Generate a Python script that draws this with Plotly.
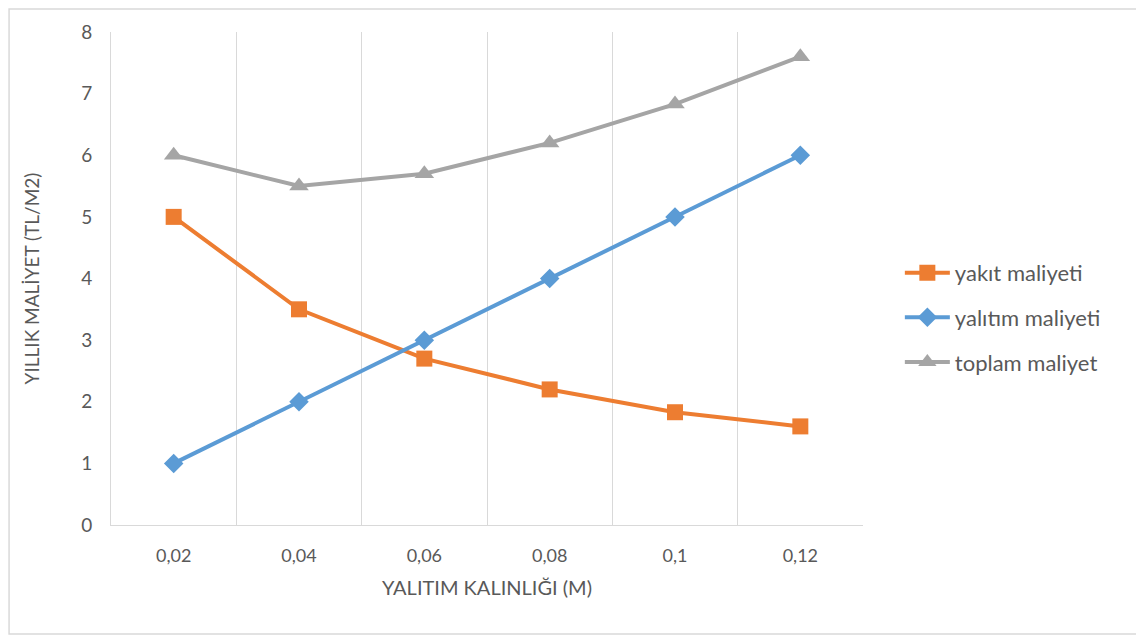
import plotly.graph_objects as go

categories = ["0,02", "0,04", "0,06", "0,08", "0,1", "0,12"]
yakit = [5.0, 3.5, 2.7, 2.2, 1.83, 1.6]
yalitim = [1.0, 2.0, 3.0, 4.0, 5.0, 6.0]
toplam = [6.0, 5.5, 5.7, 6.2, 6.83, 7.6]
y_ticks = [0, 1, 2, 3, 4, 5, 6, 7, 8]

series = [
    ("yakıt maliyeti", yakit, "#ED7D31", "square", 16),
    ("yalıtım maliyeti", yalitim, "#5B9BD5", "diamond", 15),
    ("toplam maliyet", toplam, "#A5A5A5", "triangle-up", 17),
]

xpos = list(range(len(categories)))
fig = go.Figure()
for i, (name, vals, col, sym, sz) in enumerate(series):
    fig.add_trace(go.Scatter(
        x=xpos, y=vals, name=name, mode="lines+markers",
        legendgroup=f"g{i}",
        line=dict(color=col, width=4),
        marker=dict(symbol=sym, size=sz, color=col),
    ))

font_fam = "Lato, Open Sans, sans-serif"
txt = "#595959"
grid = "#d9d9d9"

W, H = 1136, 628
L, T = 103, 24
PW, PH = 752.5, 493

fig.update_layout(
    width=W, height=H,
    margin=dict(l=L, r=W - L - PW, t=T, b=H - T - PH),
    paper_bgcolor="white", plot_bgcolor="white",
    font=dict(family=font_fam, color=txt, size=18),
    showlegend=True,
    legend=dict(
        x=1.049, y=0.421, xanchor="left", yanchor="middle",
        font=dict(size=22, color=txt, family=font_fam),
        tracegroupgap=13, traceorder="grouped", itemwidth=45,
        bgcolor="rgba(0,0,0,0)",
    ),
    xaxis=dict(
        range=[-0.5, len(categories) - 0.5],
        tickmode="array", tickvals=xpos, ticktext=categories,
        showgrid=False, zeroline=False,
        showline=True, linecolor=grid, linewidth=1,
        ticks="", ticklen=0, ticklabelstandoff=14,
        tickfont=dict(size=18, color=txt),
        minor=dict(tickmode="array", tickvals=[i - 0.5 for i in range(len(categories) + 1)],
                   showgrid=True, gridcolor=grid, gridwidth=1, ticks=""),
        title=dict(text="YALITIM KALINLIĞI (M)", font=dict(size=20, color=txt), standoff=16),
    ),
    yaxis=dict(
        range=[0, 8], tickmode="array", tickvals=y_ticks,
        showgrid=False, zeroline=False,
        showline=True, linecolor=grid, linewidth=1,
        ticks="", ticklabelstandoff=14, tickfont=dict(size=19, color=txt),
        title=dict(text="YILLIK MALİYET (TL/M2)", font=dict(size=19, color=txt), standoff=36),
    ),
    shapes=[dict(type="rect", xref="paper", yref="paper",
                 x0=(1 - L) / PW, x1=(W - 3 - L) / PW,
                 y0=-(H - T - PH - 2) / PH, y1=(PH + T - 1) / PH,
                 line=dict(color=grid, width=1.5), fillcolor="rgba(0,0,0,0)", layer="below")],
)

fig.write_html("out.html")
